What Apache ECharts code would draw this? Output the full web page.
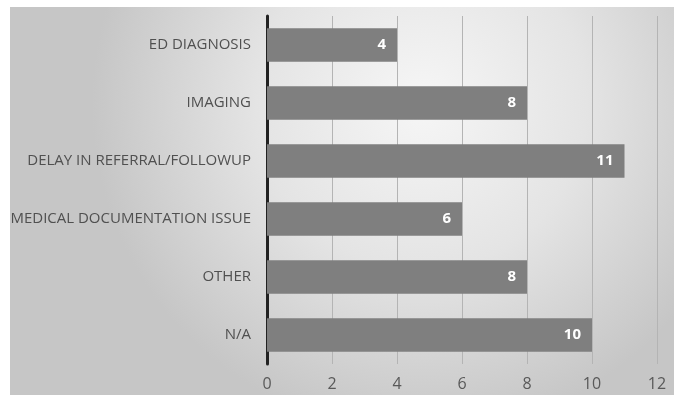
<!DOCTYPE html>
<html>
<head>
<meta charset="utf-8">
<script src="https://cdn.jsdelivr.net/npm/echarts@6/dist/echarts.min.js"></script>
<style>
  html, body { margin: 0; padding: 0; background: #fff; }
  #chart { position: absolute; left: 10px; top: 7px; width: 664px; height: 388px; }
</style>
</head>
<body>
<div id="chart"></div>
<script>
const categories = [
  "ED DIAGNOSIS",
  "IMAGING",
  "DELAY IN REFERRAL/FOLLOWUP",
  "MEDICAL DOCUMENTATION ISSUE",
  "OTHER",
  "N/A"
];
const counts = [4, 8, 11, 6, 8, 10];
const xTicks = { min: 0, max: 12, interval: 2 };

const chart = echarts.init(document.getElementById("chart"));

chart.setOption({
  backgroundColor: new echarts.graphic.RadialGradient(0.62, 0.25, 0.85, [
    { offset: 0, color: "#f6f6f6" },
    { offset: 0.5, color: "#e4e4e4" },
    { offset: 1, color: "#c6c6c6" }
  ]),
  textStyle: { fontFamily: "Open Sans" },
  grid: { left: 257, right: 17, top: 9, bottom: 31, containLabel: false, outerBoundsMode: "none" },
  xAxis: {
    type: "value",
    min: xTicks.min,
    max: xTicks.max,
    interval: xTicks.interval,
    axisLine: { show: false },
    axisTick: { show: false },
    axisLabel: { color: "#595959", fontSize: 16, margin: 12 },
    splitLine: { lineStyle: { color: "#b4b4b4", width: 1 } }
  },
  yAxis: {
    type: "category",
    inverse: true,
    data: categories,
    axisLine: { lineStyle: { color: "#222", width: 3 } },
    axisTick: { show: false },
    axisLabel: { color: "#505050", fontSize: 15, margin: 16 }
  },
  series: [{
    type: "bar",
    data: counts,
    barCategoryGap: "42%",
    itemStyle: { color: "#7f7f7f" },
    label: {
      show: true,
      position: "insideRight",
      distance: 11,
      color: "#fff",
      fontWeight: "bold",
      fontSize: 15
    }
  }]
});
</script>
</body>
</html>
